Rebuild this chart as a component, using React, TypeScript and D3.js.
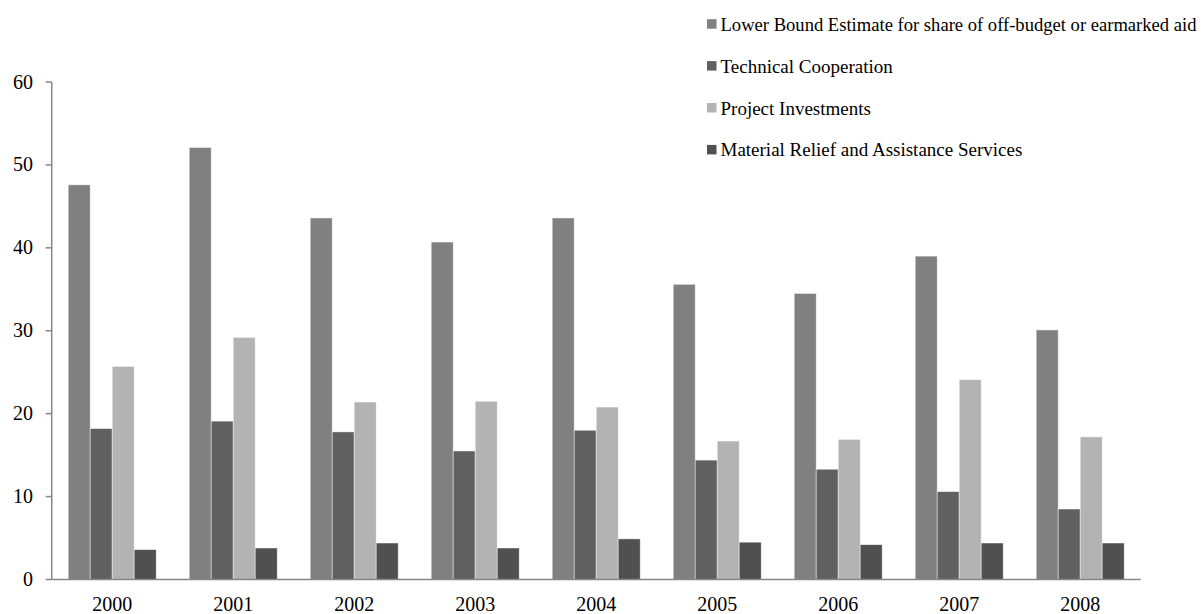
import React from "react";
import * as d3 from "d3";

const years = ["2000", "2001", "2002", "2003", "2004", "2005", "2006", "2007", "2008"];
const seriesNames = [
  "Lower Bound Estimate for share of off-budget or earmarked aid",
  "Technical Cooperation",
  "Project Investments",
  "Material Relief and Assistance Services",
];
const lowerBound = [47.6, 52.1, 43.6, 40.7, 43.6, 35.6, 34.5, 39.0, 30.1];
const technicalCooperation = [18.2, 19.1, 17.8, 15.5, 18.0, 14.4, 13.3, 10.6, 8.5];
const projectInvestments = [25.7, 29.2, 21.4, 21.5, 20.8, 16.7, 16.9, 24.1, 17.2];
const materialRelief = [3.6, 3.8, 4.4, 3.8, 4.9, 4.5, 4.2, 4.4, 4.4];
const yTicks = [0, 10, 20, 30, 40, 50, 60];

const seriesValues = [lowerBound, technicalCooperation, projectInvestments, materialRelief];
const colors = ["#808080", "#606060", "#b3b3b3", "#505050"];

const font = "'Liberation Serif', serif";

export default function App() {
  const W = 1201;
  const H = 614;
  const x0 = 51.7;
  const x1 = 1140.7;
  const yBottom = 579.5;
  const yTop = 82;

  const x = d3.scaleBand<string>().domain(years).range([x0, x1]).paddingInner(0.2727).paddingOuter(0.1364);
  const xs = d3.scaleBand<number>().domain([0, 1, 2, 3]).range([0, x.bandwidth()]);
  const y = d3.scaleLinear().domain([0, 60]).range([yBottom, yTop]);

  const textStyle = { fontFamily: font };

  return (
    <svg width={W} height={H} style={{ position: "absolute", left: 0, top: 0, background: "#fff" }}>
      {/* bars */}
      {years.map((yr, i) => (
        <g key={yr} transform={`translate(${x(yr)},0)`}>
          {seriesValues.map((vals, s) => (
            <rect
              key={s}
              x={xs(s)}
              y={y(vals[i])}
              width={xs.bandwidth()}
              height={y(0) - y(vals[i])}
              fill={colors[s]}
              stroke="#ffffff"
              strokeWidth={0.75}
              strokeOpacity={0.6}
            />
          ))}
        </g>
      ))}
      {/* y axis */}
      <line x1={x0} x2={x0} y1={yTop} y2={yBottom} stroke="#868686" strokeWidth={1.5} />
      {yTicks.map((t) => (
        <g key={t}>
          <line x1={x0 - 6} x2={x0} y1={y(t)} y2={y(t)} stroke="#868686" strokeWidth={1.5} />
          <text x={33} y={y(t) + 6.5} textAnchor="end" fontSize={20} fill="#000" style={textStyle}>
            {t}
          </text>
        </g>
      ))}
      {/* x axis */}
      <line x1={x0} x2={x1} y1={yBottom} y2={yBottom} stroke="#868686" strokeWidth={1.5} />
      {years.map((yr) => (
        <text key={yr} x={(x(yr) as number) + x.bandwidth() / 2} y={611} textAnchor="middle" fontSize={20} fill="#000" style={textStyle}>
          {yr}
        </text>
      ))}
      {/* legend */}
      {seriesNames.map((name, s) => (
        <g key={name} transform={`translate(707,${30.7 + s * 41.9})`}>
          <rect x={0} y={-11.5} width={9.5} height={9.5} fill={colors[s]} />
          <text
            x={13.5}
            y={0}
            fontSize={19}
            fill="#000"
            style={textStyle}
            {...(s === 0 ? { textLength: 476, lengthAdjust: "spacingAndGlyphs" } : {})}
          >
            {name}
          </text>
        </g>
      ))}
    </svg>
  );
}
